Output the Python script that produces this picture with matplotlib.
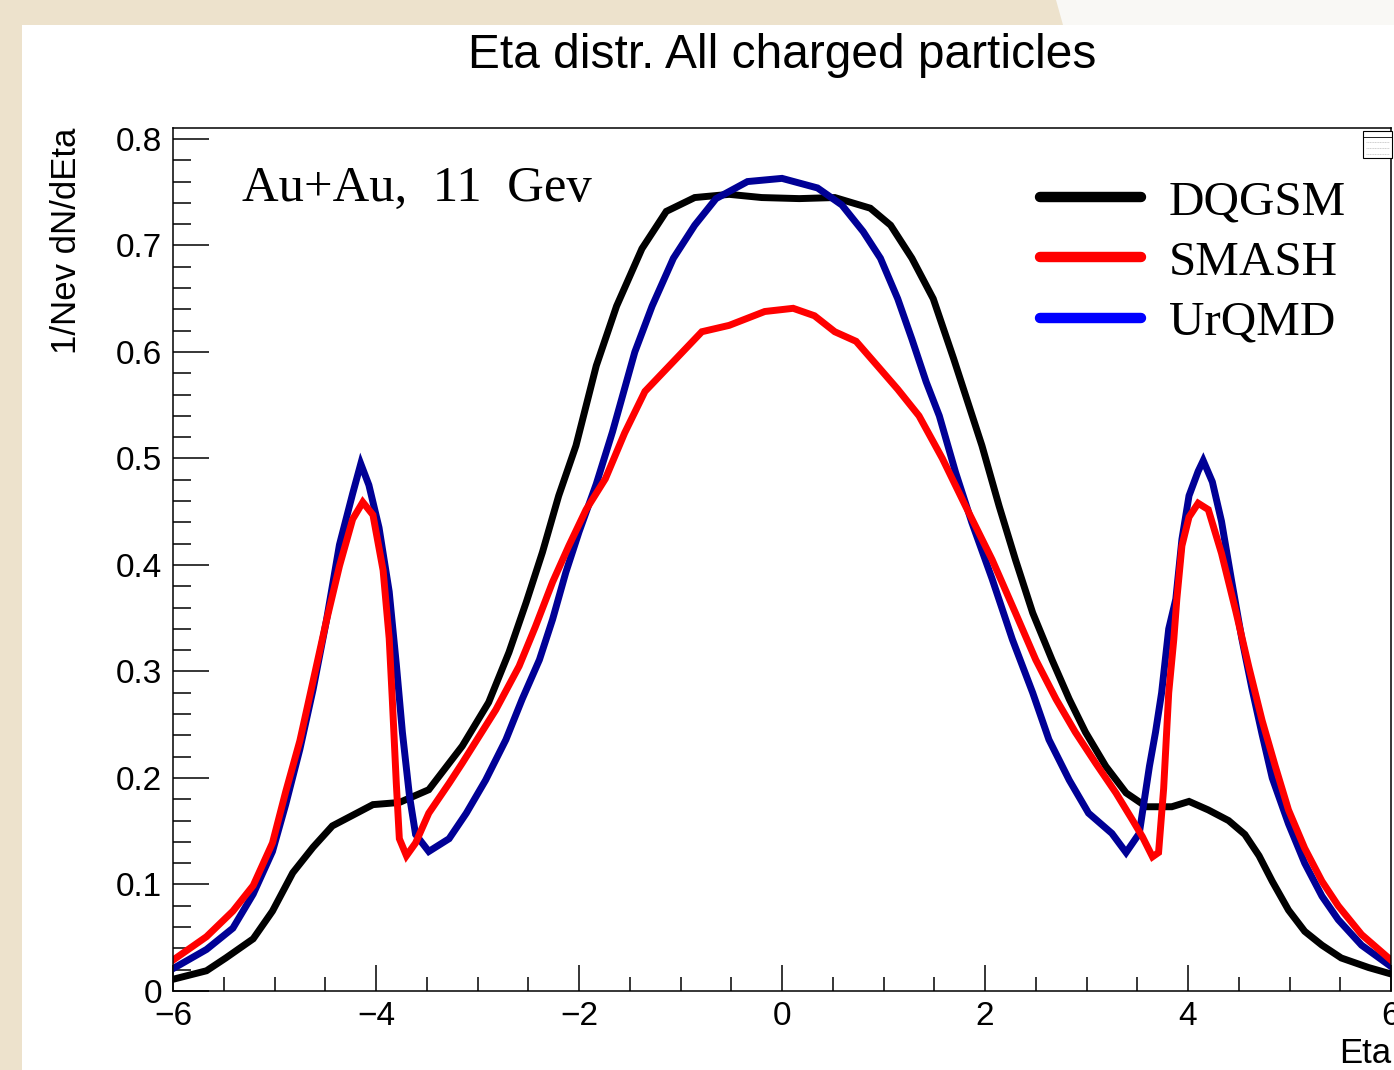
import matplotlib

matplotlib.use("Agg")

import matplotlib.pyplot as plt
from matplotlib.lines import Line2D
from matplotlib.patches import Rectangle, Polygon
from matplotlib.ticker import MultipleLocator

# values (eta, 1/Nev dN/dEta)
eta_dqgsm = [-6.0, -5.67, -5.48, -5.21, -5.02, -4.82, -4.62, -4.43, -4.23, -4.03,
             -3.77, -3.48, -3.15, -2.89, -2.69, -2.52, -2.36, -2.20, -2.03, -1.83,
             -1.63, -1.38, -1.14, -0.86, -0.52, -0.20, 0.17, 0.52, 0.87, 1.07,
             1.28, 1.49, 1.69, 1.97, 2.14, 2.30, 2.47, 2.66, 2.83, 2.99,
             3.19, 3.39, 3.59, 3.84, 4.01, 4.20, 4.40, 4.56, 4.70, 4.83,
             4.99, 5.15, 5.32, 5.51, 5.78, 6.0]
dqgsm = [0.011, 0.019, 0.031, 0.049, 0.075, 0.111, 0.135, 0.155, 0.165, 0.175,
         0.177, 0.189, 0.230, 0.271, 0.318, 0.365, 0.412, 0.465, 0.512, 0.587,
         0.643, 0.697, 0.732, 0.745, 0.748, 0.745, 0.744, 0.745, 0.735, 0.719,
         0.688, 0.650, 0.594, 0.512, 0.455, 0.405, 0.355, 0.311, 0.274, 0.243,
         0.211, 0.186, 0.173, 0.173, 0.178, 0.170, 0.160, 0.147, 0.127, 0.103,
         0.076, 0.056, 0.043, 0.031, 0.022, 0.016]

eta_smash = [-6.0, -5.67, -5.41, -5.21, -5.02, -4.89, -4.75, -4.62, -4.49, -4.36,
             -4.23, -4.13, -4.03, -3.93, -3.87, -3.84, -3.80, -3.77, -3.70, -3.61,
             -3.48, -3.28, -3.15, -2.82, -2.59, -2.43, -2.26, -2.10, -1.93, -1.74,
             -1.55, -1.35, -1.07, -0.79, -0.52, -0.17, 0.11, 0.32, 0.52, 0.73,
             0.94, 1.14, 1.35, 1.58, 1.81, 2.07, 2.30, 2.50, 2.70, 2.89,
             3.09, 3.29, 3.45, 3.55, 3.65, 3.71, 3.76, 3.81, 3.86, 3.89,
             3.94, 4.01, 4.10, 4.20, 4.33, 4.47, 4.60, 4.73, 4.86, 4.99,
             5.15, 5.32, 5.48, 5.71, 6.0]
smash = [0.029, 0.051, 0.075, 0.099, 0.139, 0.187, 0.235, 0.291, 0.347, 0.399,
         0.443, 0.459, 0.447, 0.395, 0.331, 0.275, 0.195, 0.143, 0.127, 0.139,
         0.167, 0.195, 0.214, 0.264, 0.305, 0.342, 0.384, 0.418, 0.452, 0.481,
         0.524, 0.563, 0.591, 0.619, 0.625, 0.638, 0.641, 0.634, 0.619, 0.610,
         0.587, 0.565, 0.540, 0.500, 0.455, 0.405, 0.355, 0.311, 0.274, 0.243,
         0.214, 0.186, 0.161, 0.145, 0.126, 0.130, 0.190, 0.280, 0.330, 0.368,
         0.418, 0.445, 0.458, 0.452, 0.411, 0.357, 0.304, 0.254, 0.211, 0.170,
         0.134, 0.103, 0.080, 0.053, 0.029]

eta_urqmd = [-6.0, -5.67, -5.41, -5.21, -5.02, -4.89, -4.75, -4.62, -4.49, -4.36,
             -4.23, -4.15, -4.07, -3.97, -3.87, -3.80, -3.74, -3.67, -3.61, -3.48,
             -3.28, -3.11, -2.92, -2.72, -2.56, -2.39, -2.26, -2.13, -2.00, -1.83,
             -1.67, -1.45, -1.28, -1.07, -0.86, -0.65, -0.34, 0.0, 0.35, 0.59,
             0.80, 0.97, 1.14, 1.28, 1.42, 1.55, 1.71, 1.87, 2.07, 2.27,
             2.47, 2.63, 2.83, 3.02, 3.25, 3.39, 3.52, 3.62, 3.68, 3.74,
             3.81, 3.88, 3.94, 4.01, 4.10, 4.15, 4.24, 4.33, 4.43, 4.53,
             4.63, 4.73, 4.83, 4.99, 5.15, 5.32, 5.48, 5.71, 6.0]
urqmd = [0.021, 0.039, 0.059, 0.091, 0.131, 0.175, 0.227, 0.283, 0.347, 0.419,
         0.467, 0.495, 0.475, 0.435, 0.375, 0.307, 0.243, 0.183, 0.147, 0.131,
         0.143, 0.167, 0.198, 0.236, 0.274, 0.311, 0.349, 0.393, 0.431, 0.476,
         0.525, 0.600, 0.643, 0.688, 0.719, 0.744, 0.760, 0.763, 0.754, 0.738,
         0.713, 0.688, 0.650, 0.612, 0.572, 0.540, 0.487, 0.440, 0.387, 0.330,
         0.280, 0.236, 0.198, 0.167, 0.148, 0.130, 0.148, 0.211, 0.243, 0.280,
         0.340, 0.368, 0.424, 0.465, 0.488, 0.498, 0.478, 0.441, 0.385, 0.331,
         0.284, 0.241, 0.200, 0.157, 0.120, 0.089, 0.067, 0.043, 0.023]

labels = ["DQGSM", "SMASH", "UrQMD"]
curve_colors = ["black", "#ff0000", "#000096"]
legend_colors = ["black", "#ff0000", "#0000ff"]

W, H = 1394, 1070
sans = "Liberation Sans"
serif = "Liberation Serif"

fig = plt.figure(figsize=(W / 100, H / 100), dpi=100)
fig.patch.set_facecolor("#ede2cc")
fig.add_artist(Rectangle((22 / W, 0), 1 - 22 / W, 1 - 25 / H, transform=fig.transFigure,
                         facecolor="white", edgecolor="none", zorder=0))
fig.add_artist(Polygon([(1056 / W, 1), (1, 1), (1, 1 - 25 / H), (1063 / W, 1 - 25 / H)],
                       closed=True, transform=fig.transFigure,
                       facecolor="#f9f8f5", edgecolor="none", zorder=0))

ax = fig.add_axes([173 / W, 1 - 991 / H, (1391 - 173) / W, (991 - 128) / H])
ax.set_facecolor("white")

# draw order: DQGSM, UrQMD, SMASH
ax.plot(eta_dqgsm, dqgsm, color=curve_colors[0], lw=5, solid_joinstyle="miter")
ax.plot(eta_urqmd, urqmd, color=curve_colors[2], lw=5, solid_joinstyle="miter")
ax.plot(eta_smash, smash, color=curve_colors[1], lw=5, solid_joinstyle="miter")

ax.set_xlim(-6, 6)
ax.set_ylim(0, 0.8103)
ax.xaxis.set_major_locator(MultipleLocator(2))
ax.xaxis.set_minor_locator(MultipleLocator(0.5))
ax.yaxis.set_major_locator(MultipleLocator(0.1))
ax.yaxis.set_minor_locator(MultipleLocator(0.02))
ax.tick_params(axis="both", which="both", direction="in", width=1.1,
               top=False, right=False)
ax.tick_params(axis="y", which="major", length=26, pad=8)
ax.tick_params(axis="y", which="minor", length=13)
ax.tick_params(axis="x", which="major", length=19, pad=7)
ax.tick_params(axis="x", which="minor", length=10)
ax.set_yticks([0, 0.1, 0.2, 0.3, 0.4, 0.5, 0.6, 0.7, 0.8])
ax.set_yticklabels(["0", "0.1", "0.2", "0.3", "0.4", "0.5", "0.6", "0.7", "0.8"])
for t in ax.get_xticklabels() + ax.get_yticklabels():
    t.set_fontfamily(sans)
    t.set_fontsize(24)
for s in ax.spines.values():
    s.set_linewidth(1.1)

ax.set_ylabel("1/Nev dN/dEta", fontsize=25, family=sans, loc="top")
ax.yaxis.set_label_coords(-0.074, 1.0)
ax.set_xlabel("Eta", fontsize=25, family=sans, loc="right")
ax.xaxis.set_label_coords(1.0, -0.053)

fig.text(782 / W, 1 - 56 / H, "Eta distr. All charged particles", ha="center",
         va="center", fontsize=34.5, family=sans)

ax.text(0.0567, 0.930, "Au+Au,  11  Gev", transform=ax.transAxes, fontsize=36.5,
        family=serif, ha="left", va="center")

handles = [Line2D([], [], color=c, lw=7.5, solid_capstyle="round") for c in legend_colors]
fig.legend(handles, labels, loc="upper left", bbox_to_anchor=(1040 / W, 1 - 180 / H),
           bbox_transform=fig.transFigure, frameon=False, borderpad=0, borderaxespad=0,
           handlelength=2.05, handletextpad=0.57, labelspacing=0.32,
           prop={"family": serif, "size": 35.4})

# small ROOT stats box in the top-right corner
fig.add_artist(Rectangle((1363 / W, 1 - 158 / H), 29 / W, 27 / H, transform=fig.transFigure,
                         facecolor="white", edgecolor="black", lw=0.8, zorder=5))
fig.add_artist(Line2D([1363 / W, 1392 / W], [1 - 137 / H, 1 - 137 / H],
                      transform=fig.transFigure, color="black", lw=0.6, zorder=6))
for yy in (142, 148, 154):
    fig.add_artist(Line2D([1366 / W, 1389 / W], [1 - yy / H, 1 - yy / H],
                          transform=fig.transFigure, color="#aaaaaa", lw=0.4,
                          ls=(0, (2, 1)), zorder=6))

fig.savefig("out.png", dpi=100, facecolor=fig.get_facecolor())
